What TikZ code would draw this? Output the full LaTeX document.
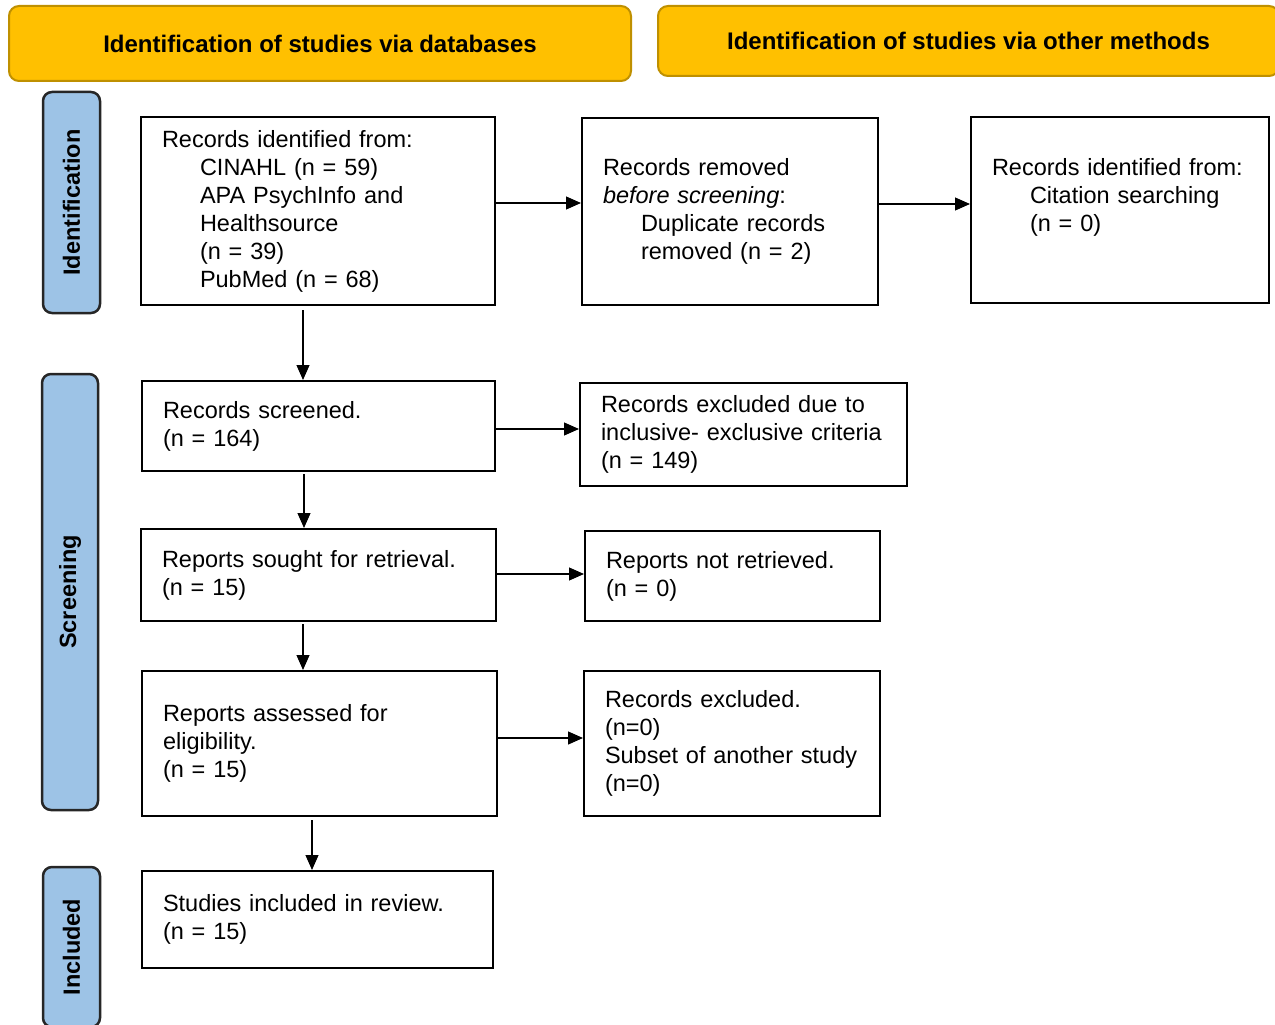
\documentclass[tikz,border=0pt]{standalone}
\usepackage{fontspec}
\setmainfont{Liberation Sans}
\usepackage{xcolor}
\usetikzlibrary{arrows.meta, positioning, calc}
\definecolor{headgold}{HTML}{FFC000}
\definecolor{headedge}{HTML}{BF9000}
\definecolor{sideblue}{HTML}{9DC3E6}
\newcommand{\ind}{\hspace*{38pt}}

\begin{document}
\begin{tikzpicture}[
    x=1pt, y=-1pt,
    headbox/.style={rectangle, rounded corners=10pt, draw=headedge, fill=headgold, line width=2pt,
                    anchor=north west, font=\fontsize{24}{28}\selectfont\bfseries},
    sidebox/.style={rectangle, rounded corners=9pt, draw=black!85, fill=sideblue, line width=2.5pt,
                    rotate=90, font=\fontsize{23.5}{28}\selectfont\bfseries},
    flowbox/.style={rectangle, draw=black, line width=2pt, inner xsep=21pt, inner ysep=0pt,
                    align=left, anchor=north west, font=\fontsize{23.5}{28}\selectfont},
    arr/.style={-{Triangle[length=15pt, width=13pt]}, line width=1.2pt}
]
    \useasboundingbox (0,0) rectangle (1275,1025);

    % phase headers
    \node[headbox, minimum width=622pt, minimum height=75pt] (headdb) at (8,5)
        {Identification of studies via databases};
    \node[headbox, minimum width=621pt, minimum height=70pt] (headother) at (657,5)
        {Identification of studies via other methods};

    % side labels
    \node[sidebox, minimum width=221pt, minimum height=57pt] (sideid) at (71.5,202.5) {Identification};
    \node[sidebox, minimum width=436pt, minimum height=56pt] (sidescr) at (70,592) {Screening};
    \node[sidebox, minimum width=160pt, minimum height=57pt] (sideinc) at (71.5,947) {Included};

    % identification
    \node[flowbox, text width=312pt, minimum height=188pt] (recid) at (140,116) {
        Records identified from:\\
        \ind CINAHL (n = 59)\\
        \ind APA PsychInfo and\\
        \ind Healthsource\\
        \ind (n = 39)\\
        \ind PubMed (n = 68)
    };
    \node[flowbox, text width=254pt, minimum height=187pt] (removed) at (581,117) {
        Records removed\\
        \textit{before screening}:\\
        \ind Duplicate records\\
        \ind removed (n = 2)
    };
    \node[flowbox, text width=256pt, minimum height=186pt, text depth=87pt] (citid) at (970,116) {
        Records identified from:\\
        \ind Citation searching\\
        \ind (n = 0)
    };

    % screening
    \node[flowbox, text width=311pt, minimum height=90pt] (screened) at (141,380) {
        Records screened.\\
        (n = 164)
    };
    \node[flowbox, text width=285pt, minimum height=103pt] (excluded) at (579,382) {
        Records excluded due to\\
        inclusive- exclusive criteria\\
        (n = 149)
    };
    \node[flowbox, text width=313pt, minimum height=92pt] (sought) at (140,528) {
        Reports sought for retrieval.\\
        (n = 15)
    };
    \node[flowbox, text width=253pt, minimum height=90pt] (notret) at (584,530) {
        Reports not retrieved.\\
        (n = 0)
    };
    \node[flowbox, text width=313pt, minimum height=145pt] (assessed) at (141,670) {
        Reports assessed for\\
        eligibility.\\
        (n = 15)
    };
    \node[flowbox, text width=254pt, minimum height=145pt] (recexcl) at (583,670) {
        Records excluded.\\
        (n=0)\\
        Subset of another study\\
        (n=0)
    };

    % included
    \node[flowbox, text width=309pt, minimum height=97pt] (included) at (141,870) {
        Studies included in review.\\
        (n = 15)
    };

    % connectors
    \draw[arr] ([yshift=8pt]recid.east) -- ([yshift=8pt]recid.east -| removed.west);
    \draw[arr] ([yshift=7.5pt]removed.east) -- ([yshift=7.5pt]removed.east -| citid.west);
    \draw[arr, shorten <=4pt] ([xshift=-15pt]recid.south) -- ([xshift=-15pt]recid.south |- screened.north);
    \draw[arr] ([yshift=-3pt]screened.east) -- ([yshift=-3pt]screened.east -| excluded.west);
    \draw[arr, shorten <=2pt] ([xshift=-14.5pt]screened.south) -- ([xshift=-14.5pt]screened.south |- sought.north);
    \draw[arr] ([yshift=1pt]sought.east) -- ([yshift=1pt]sought.east -| notret.west);
    \draw[arr, shorten <=2pt] ([xshift=-15.5pt]sought.south) -- ([xshift=-15.5pt]sought.south |- assessed.north);
    \draw[arr] ([yshift=5.5pt]assessed.east) -- ([yshift=5.5pt]assessed.east -| recexcl.west);
    \draw[arr, shorten <=3pt] ([xshift=-7.5pt]assessed.south) -- ([xshift=-7.5pt]assessed.south |- included.north);
\end{tikzpicture}
\end{document}
